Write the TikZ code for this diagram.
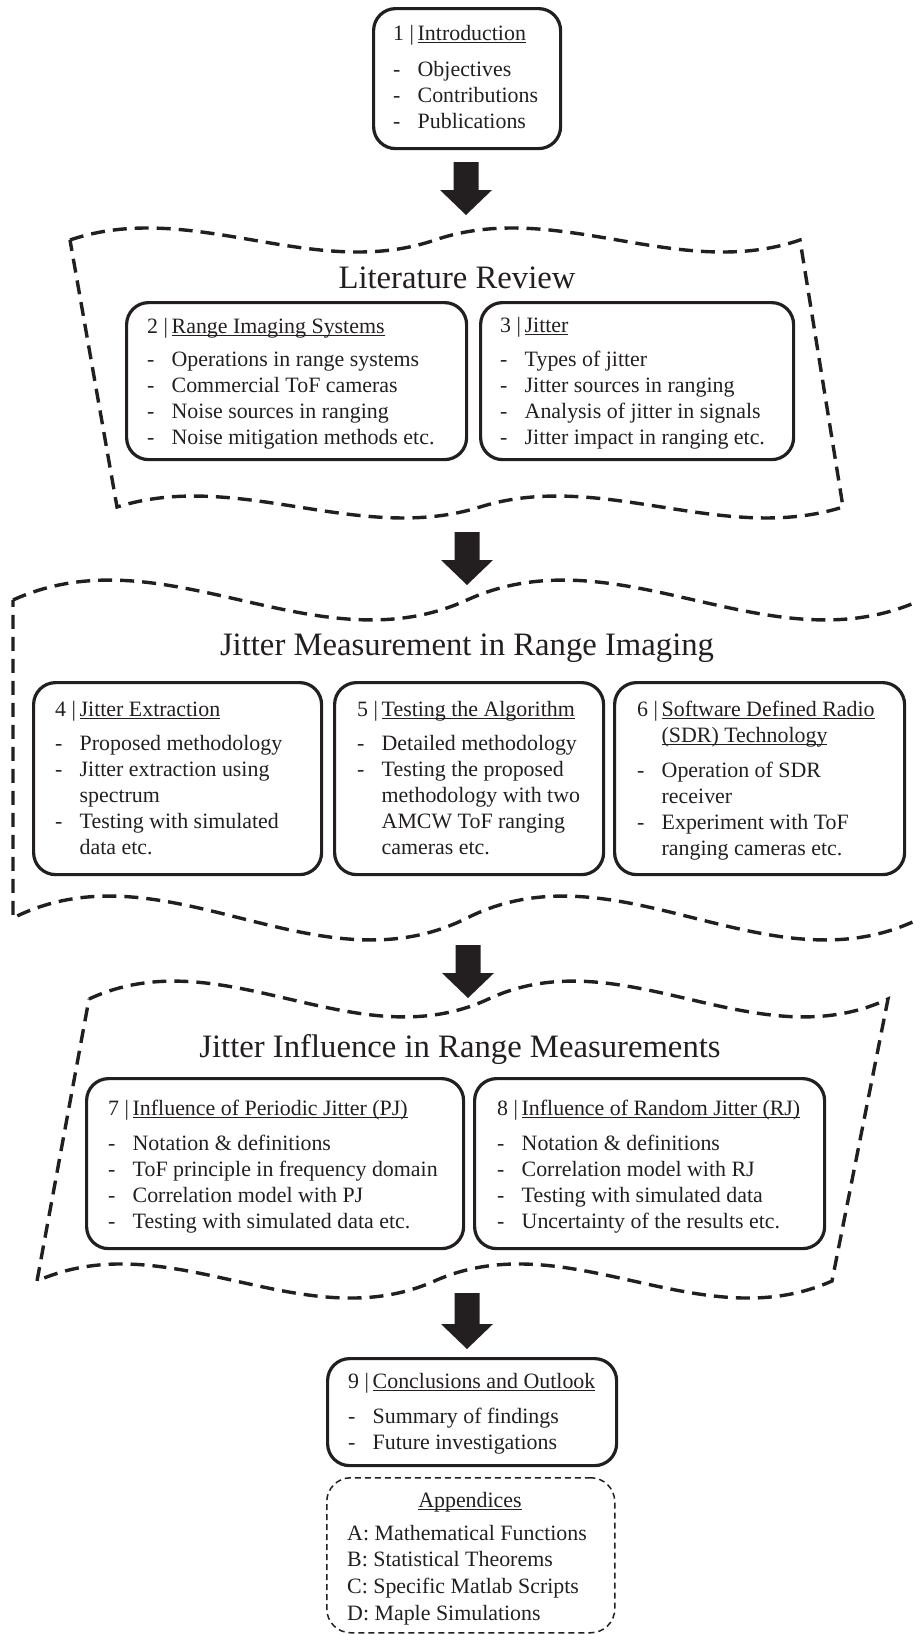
\documentclass[tikz,border=0pt]{standalone}
\usepackage{fontspec}
\setmainfont{Liberation Serif}
\definecolor{ink}{HTML}{231F20}
% underline sitting just below the baseline
\newcommand\ulx[1]{\setbox0=\hbox{#1}\rlap{\textcolor{ink}{\rule[-3.2pt]{\wd0}{1.3pt}}}\box0}
\newcommand\itm{\makebox[24.5pt][l]{-}}
\newcommand\ind{\hspace*{24.5pt}}
\newcommand\hd[2]{\makebox[24.5pt][l]{#1 |}\ulx{#2}}
% wavy banner: top-left x, top-right x, top y, bottom-left x, bottom-right x, bottom y, top bulge, bottom bulge
\newcommand\wavebanner[8]{%
  \pgfmathsetmacro\bnT{(#2-#1)/6}%
  \pgfmathsetmacro\bnB{(#5-#4)/6}%
  \draw[banner] (#1,#3)
    .. controls ({#1+\bnT},{#3-#7}) and ({#1+2*\bnT},{#3+#7}) .. ({#1+3*\bnT},#3)
    .. controls ({#1+4*\bnT},{#3-#7}) and ({#1+5*\bnT},{#3+#7}) .. (#2,#3)
    -- (#5,#6)
    .. controls ({#5-\bnB},{#6+#8}) and ({#5-2*\bnB},{#6-#8}) .. ({#5-3*\bnB},#6)
    .. controls ({#5-4*\bnB},{#6+#8}) and ({#5-5*\bnB},{#6-#8}) .. (#4,#6)
    -- cycle;}
% solid block arrow pointing down: centre x, top y, tip y
\newcommand\blockarrow[3]{%
  \fill[ink] ({#1-12.5},#2) -- ({#1+12.5},#2) -- ({#1+12.5},{#3-25}) -- ({#1+26},{#3-25})
    -- (#1,#3) -- ({#1-26},{#3-25}) -- ({#1-12.5},{#3-25}) -- cycle;}
\tikzset{
  box/.style={draw=ink, line width=3.2pt, rounded corners=22pt, inner sep=0pt, anchor=north west},
  appbox/.style={draw=ink, line width=1.5pt, dash pattern=on 6pt off 4pt, rounded corners=24pt, inner sep=0pt, anchor=north west},
  body/.style={font=\fontsize{21.9}{26}\selectfont, text=ink, inner sep=0pt, anchor=base west},
  applist/.style={font=\fontsize{21.9}{26.7}\selectfont, text=ink, inner sep=0pt, anchor=base west},
  banner/.style={draw=ink, line width=3.4pt, dash pattern=on 14pt off 8pt},
  bannertitle/.style={font=\fontsize{32.7}{39}\selectfont, text=ink, inner sep=0pt, anchor=base},
}
\begin{document}
\begin{tikzpicture}[x=1pt,y=-1pt]
\useasboundingbox (0,0) rectangle (914,1634);
\clip (0,0) rectangle (914,1634);

% wavy section banners
\wavebanner{70}{800}{240}{117}{843}{507}{41.6}{38}
\wavebanner{13}{921}{600}{13}{921}{918}{69}{76}
\wavebanner{89}{888}{999}{37}{832}{1281}{62}{59}

% flow arrows
\blockarrow{466}{162}{215}
\blockarrow{467}{532}{585}
\blockarrow{468}{945}{998}
\blockarrow{467}{1293}{1349}

% 1 Introduction
\node[box, minimum width=187pt, minimum height=140pt] (b1) at (372,7) {};
\node[body] (t1) at (393,40) {\hd{1}{Introduction}};
\node[body] (l1) at (393,76) {\begin{tabular}[t]{@{}l@{}}\itm Objectives\\ \itm Contributions\\ \itm Publications\end{tabular}};

% Literature review
\node[bannertitle] (h1) at (457,288) {Literature Review};
\node[box, minimum width=340pt, minimum height=157pt] (b2) at (125,301) {};
\node[body] (t2) at (147,333) {\hd{2}{Range Imaging Systems}};
\node[body] (l2) at (147,366) {\begin{tabular}[t]{@{}l@{}}\itm Operations in range systems\\ \itm Commercial ToF cameras\\ \itm Noise sources in ranging\\ \itm Noise mitigation methods etc.\end{tabular}};
\node[box, minimum width=313pt, minimum height=157pt] (b3) at (479,301) {};
\node[body] (t3) at (500,332) {\hd{3}{Jitter}};
\node[body] (l3) at (500,366) {\begin{tabular}[t]{@{}l@{}}\itm Types of jitter\\ \itm Jitter sources in ranging\\ \itm Analysis of jitter in signals\\ \itm Jitter impact in ranging etc.\end{tabular}};

% Jitter measurement
\node[bannertitle] (h2) at (467,655) {Jitter Measurement in Range Imaging};
\node[box, minimum width=288pt, minimum height=192pt] (b4) at (32,681) {};
\node[body] (t4) at (55,716) {\hd{4}{Jitter Extraction}};
\node[body] (l4) at (55,750) {\begin{tabular}[t]{@{}l@{}}\itm Proposed methodology\\ \itm Jitter extraction using\\ \ind spectrum\\ \itm Testing with simulated\\ \ind data etc.\end{tabular}};
\node[box, minimum width=269pt, minimum height=192pt] (b5) at (333,681) {};
\node[body] (t5) at (357,716) {\hd{5}{Testing the Algorithm}};
\node[body] (l5) at (357,750) {\begin{tabular}[t]{@{}l@{}}\itm Detailed methodology\\ \itm Testing the proposed\\ \ind methodology with two\\ \ind AMCW ToF ranging\\ \ind cameras etc.\end{tabular}};
\node[box, minimum width=290pt, minimum height=192pt] (b6) at (613,681) {};
\node[body] (t6) at (637,716) {\begin{tabular}[t]{@{}l@{}}\hd{6}{Software Defined Radio}\\ \ind\ulx{(SDR) Technology}\end{tabular}};
\node[body] (l6) at (637,777) {\begin{tabular}[t]{@{}l@{}}\itm Operation of SDR\\ \ind receiver\\ \itm Experiment with ToF\\ \ind ranging cameras etc.\end{tabular}};

% Jitter influence
\node[bannertitle] (h3) at (460,1057) {Jitter Influence in Range Measurements};
\node[box, minimum width=377pt, minimum height=170pt] (b7) at (85,1077) {};
\node[body] (t7) at (108,1115) {\hd{7}{Influence of Periodic Jitter (PJ)}};
\node[body] (l7) at (108,1150) {\begin{tabular}[t]{@{}l@{}}\itm Notation \& definitions\\ \itm ToF principle in frequency domain\\ \itm Correlation model with PJ\\ \itm Testing with simulated data etc.\end{tabular}};
\node[box, minimum width=350pt, minimum height=170pt] (b8) at (473,1077) {};
\node[body] (t8) at (497,1115) {\hd{8}{Influence of Random Jitter (RJ)}};
\node[body] (l8) at (497,1150) {\begin{tabular}[t]{@{}l@{}}\itm Notation \& definitions\\ \itm Correlation model with RJ\\ \itm Testing with simulated data\\ \itm Uncertainty of the results etc.\end{tabular}};

% 9 Conclusions
\node[box, minimum width=289pt, minimum height=107pt] (b9) at (326,1357) {};
\node[body] (t9) at (348,1388) {\hd{9}{Conclusions and Outlook}};
\node[body] (l9) at (348,1423) {\begin{tabular}[t]{@{}l@{}}\itm Summary of findings\\ \itm Future investigations\end{tabular}};

% Appendices
\node[appbox, minimum width=288pt, minimum height=155pt] (ba) at (326,1477) {};
\node[body, anchor=base] (ta) at (470,1507) {\ulx{Appendices}};
\node[applist] (la) at (347,1540) {\begin{tabular}[t]{@{}l@{}}A: Mathematical Functions\\ B: Statistical Theorems\\ C: Specific Matlab Scripts\\ D: Maple Simulations\end{tabular}};
\end{tikzpicture}
\end{document}
